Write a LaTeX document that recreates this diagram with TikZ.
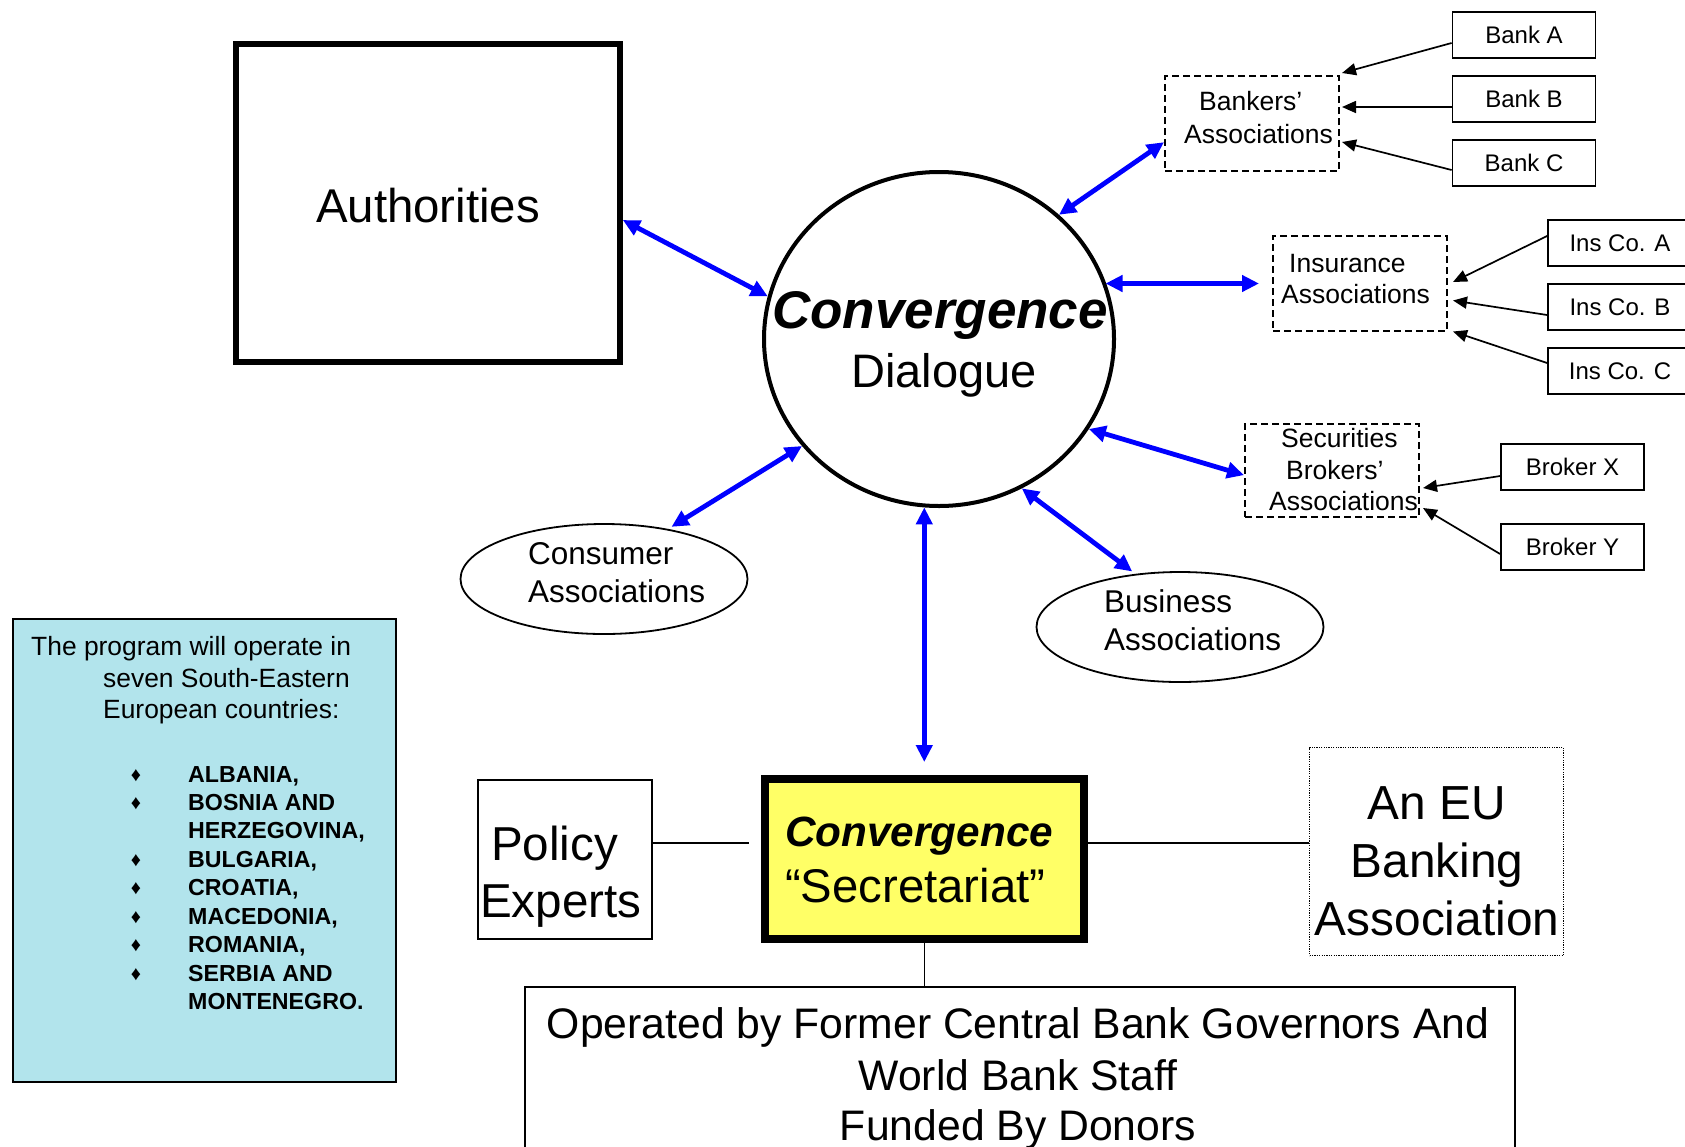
\documentclass[tikz,border=0pt]{standalone}
\usepackage{fontspec}
\setmainfont{Liberation Sans}
\usetikzlibrary{shapes.geometric,arrows.meta,calc}
\definecolor{infocyan}{RGB}{178,228,236}
\definecolor{secyellow}{RGB}{255,255,102}
\definecolor{arrblue}{RGB}{0,0,255}
\newcommand\fsz[1]{\fontsize{#1}{#1}\selectfont}
\begin{document}
\begin{tikzpicture}[x=1pt,y=-1pt,
  box/.style={draw, rectangle, inner sep=0pt},
  dashbox/.style={draw, rectangle, inner sep=0pt, line width=2pt, dash pattern=on 7pt off 4pt},
  smallbox/.style={draw, rectangle, inner sep=0pt, line width=1.8pt, minimum width=143pt, minimum height=46pt, font=\fsz{24}},
  ell/.style={draw, ellipse, inner sep=0pt, line width=1.8pt, minimum width=287pt, minimum height=110pt},
  lbl/.style={anchor=base, inner sep=0pt},
  lblw/.style={anchor=base west, inner sep=0pt},
  barrow/.style={draw=arrblue, line width=4.8pt, {Triangle[length=17pt,width=16pt]}-{Triangle[length=17pt,width=16pt]}},
  karrow/.style={draw, line width=1.7pt, -{Triangle[length=14pt,width=12pt]}},
  thinline/.style={draw, line width=1.5pt}
]
\useasboundingbox (0,0) rectangle (1685,1146);
\fill[white] (0,0) rectangle (1685,1146);
\clip (0,0) rectangle (1685,1146);

% main shapes
\node[box, line width=5.7pt, minimum width=384pt, minimum height=318pt] (auth) at (428,203) {};
\node[draw, ellipse, inner sep=0pt, line width=4pt, minimum width=350pt, minimum height=334pt] (circ) at (939,339) {};

\node[dashbox, minimum width=174pt, minimum height=95pt] (bankers) at (1252,123.5) {};
\node[smallbox] (bankA) at (1524,35) {Bank A};
\node[smallbox] (bankB) at (1524,99) {Bank B};
\node[smallbox] (bankC) at (1524,163) {Bank C};

\node[dashbox, minimum width=174pt, minimum height=95pt] (ins) at (1360,283.5) {};
\node[smallbox, minimum width=144pt] (insA) at (1620,243) {Ins Co. A};
\node[smallbox, minimum width=144pt] (insB) at (1620,307) {Ins Co. B};
\node[smallbox, minimum width=144pt] (insC) at (1620,371) {Ins Co. C};

\node[dashbox, minimum width=174pt, minimum height=93pt] (secu) at (1332,470.5) {};
\node[smallbox] (brokX) at (1572.5,467) {Broker X};
\node[smallbox] (brokY) at (1572.5,547) {Broker Y};

\node[ell] (cons) at (604,579) {};
\node[ell] (busi) at (1180,627) {};

\node[box, fill=infocyan, line width=2pt, minimum width=383pt, minimum height=463pt] (info) at (204.5,850.5) {};

\node[box, line width=1.5pt, minimum width=174pt, minimum height=159pt] (policy) at (565,859.5) {};
\node[box, fill=secyellow, line width=8pt, minimum width=319pt, minimum height=160pt] (secr) at (924.5,859) {};
\node[draw, rectangle, inner sep=0pt, line width=1.2pt, dash pattern=on 1.2pt off 1.2pt, minimum width=254pt, minimum height=208pt] (eu) at (1436.5,851.5) {};
\node[box, line width=1.5pt, minimum width=990pt, minimum height=213pt] (op) at (1020,1093.5) {};

% texts
\node[lbl, font=\fsz{47.4}] (tAuth) at (428,222) {Authorities};
\node[lbl, font=\fsz{53}\bfseries\itshape] (tConv) at (940,328) {Convergence};
\node[lbl, font=\fsz{47}] (tDial) at (944,387) {Dialogue};

\node[lblw, font=\fsz{26.5}] (tBk1) at (1199,110) {Bankers’};
\node[lblw, font=\fsz{26.5}] (tBk2) at (1184,143) {Associations};
\node[lblw, font=\fsz{26.5}] (tIn1) at (1289,272) {Insurance};
\node[lblw, font=\fsz{26.5}] (tIn2) at (1281,303) {Associations};
\node[lblw, font=\fsz{26.5}] (tSe1) at (1281,447) {Securities};
\node[lblw, font=\fsz{26.5}] (tSe2) at (1286,479) {Brokers’};
\node[lblw, font=\fsz{26.5}] (tSe3) at (1269,510) {Associations};

\node[lblw, font=\fsz{31.5}] (tCo1) at (528,564) {Consumer};
\node[lblw, font=\fsz{31.5}] (tCo2) at (528,602) {Associations};
\node[lblw, font=\fsz{31.5}] (tBu1) at (1104,612) {Business};
\node[lblw, font=\fsz{31.5}] (tBu2) at (1104,650) {Associations};

\node[lblw, font=\fsz{26.4}] (tIf1) at (31,655) {The program will operate in};
\node[lblw, font=\fsz{26.4}] (tIf2) at (103,687) {seven South-Eastern};
\node[lblw, font=\fsz{26.4}] (tIf3) at (103,718) {European countries:};
\foreach \y/\c [count=\i] in {782/ALBANIA{,}, 810/BOSNIA AND, 838.5/HERZEGOVINA{,}, 867/BULGARIA{,}, 895.5/CROATIA{,}, 924/MACEDONIA{,}, 952.5/ROMANIA{,}, 981/SERBIA AND, 1009.5/MONTENEGRO.}{
  \node[lblw, font=\fsz{23.2}\bfseries] (tC\i) at (188,\y) {\c};
}
\foreach \y [count=\i] in {782, 810, 867, 895.5, 924, 952.5, 981}{
  \node[lbl, font=\fsz{20}] (tB\i) at (136,\y-1) {♦};
}

\node[lblw, font=\fsz{47.6}] (tPo1) at (491,860) {Policy};
\node[lblw, font=\fsz{47.6}] (tPo2) at (480,917) {Experts};
\node[lblw, font=\fsz{42.3}\bfseries\itshape] (tSc1) at (785,846) {Convergence};
\node[lblw, font=\fsz{47.3}] (tSc2) at (785,902) {“Secretariat”};
\node[lbl, font=\fsz{47.8}] (tEu1) at (1437,819) {An EU};
\node[lbl, font=\fsz{47.8}] (tEu2) at (1437,877) {Banking};
\node[lbl, font=\fsz{47.8}] (tEu3) at (1437,935) {Association};
\node[lbl, font=\fsz{42.7}] (tOp1) at (1018,1038) {Operated by Former Central Bank Governors And};
\node[lbl, font=\fsz{42.7}] (tOp2) at (1018,1090) {World Bank Staff};
\node[lbl, font=\fsz{42.7}] (tOp3) at (1018,1140) {Funded By Donors};

% blue arrows
\draw[barrow] (auth.-5) -- (circ.166.9);
\draw[barrow] (circ.46.7) -- (bankers.192.5);
\draw[barrow, shorten >=13pt] (circ.19 |- ins.west) -- (ins.west);
\draw[barrow] (circ.-31.4) -- (secu.183);
\draw[barrow, shorten >=4pt] (circ.-61.2) -- (busi.130);
\draw[barrow, shorten >=4pt] (circ.218.9) -- (cons.38);
\draw[barrow, shorten >=13pt] (circ.265) -- (circ.265 |- secr.north);

% black arrows
\draw[karrow] ([yshift=-8pt]bankA.west) -- ($(bankers.north east)+(2,-2)$);
\draw[karrow] ([yshift=-8pt]bankB.west) -- ($(bankers.east)+(2,-16.5)$);
\draw[karrow] ([yshift=-7pt]bankC.west) -- ($(bankers.east)+(2,18.5)$);
\draw[karrow] ([yshift=7pt]insA.west) -- ($(ins.east)+(5,-1.5)$);
\draw[karrow] ([yshift=-8pt]insB.west) -- ($(ins.east)+(5,17)$);
\draw[karrow] ([yshift=8pt]insC.west) -- ($(ins.east)+(5,48)$);
\draw[karrow] ([yshift=-9pt]brokX.west) -- ($(secu.east)+(3,17.5)$);
\draw[karrow] ([yshift=-7pt]brokY.west) -- ($(secu.east)+(3,37.5)$);

% plain connectors
\draw[thinline] ([yshift=16.5pt]policy.east) -- ($(secr.west)+(-12,-16)$);
\draw[thinline] ($(secr.east)+(0,-16)$) -- ($(eu.west)+(0,-8.5)$);
\draw[thinline] (secr.south) -- (secr.south |- op.north);
\end{tikzpicture}
\end{document}
